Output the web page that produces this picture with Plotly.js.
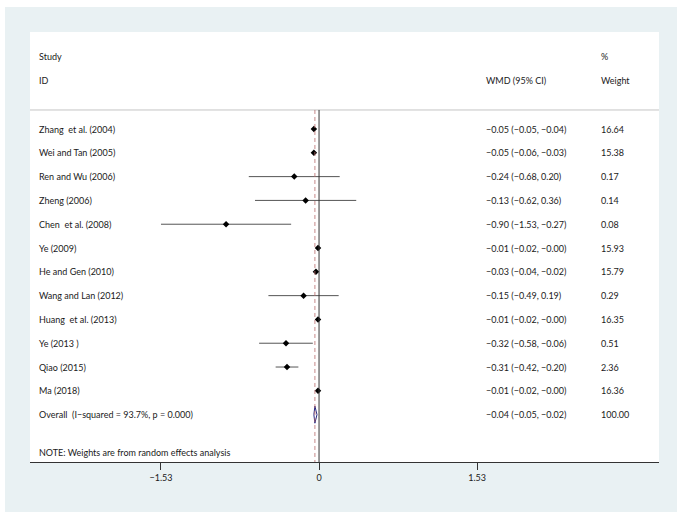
<!DOCTYPE html>
<html>
<head>
<meta charset="utf-8">
<script src="https://cdn.plot.ly/plotly-3.0.1.min.js"></script>
<style>html,body{margin:0;padding:0;background:#fff;}#chart{width:683px;height:520px;}</style>
</head>
<body>
<div id="chart"></div>
<script>
// ---- data ----
const studies = ["Zhang  et al. (2004)", "Wei and Tan (2005)", "Ren and Wu (2006)", "Zheng (2006)",
  "Chen  et al. (2008)", "Ye (2009)", "He and Gen (2010)", "Wang and Lan (2012)",
  "Huang  et al. (2013)", "Ye (2013 )", "Qiao (2015)", "Ma (2018)"];
const wmd   = [-0.05, -0.05, -0.24, -0.13, -0.90, -0.01, -0.03, -0.15, -0.01, -0.32, -0.31, -0.01];
const lower = [-0.05, -0.06, -0.68, -0.62, -1.53, -0.02, -0.04, -0.49, -0.02, -0.58, -0.42, -0.02];
const upper = [-0.04, -0.03,  0.20,  0.36, -0.27, -0.00, -0.02,  0.19, -0.00, -0.06, -0.20, -0.00];
const weights = [16.64, 15.38, 0.17, 0.14, 0.08, 15.93, 15.79, 0.29, 16.35, 0.51, 2.36, 16.36];
const overallLabel = "Overall  (I\u2212squared = 93.7%, p = 0.000)";
const overallWmd = -0.04, overallLower = -0.05, overallUpper = -0.02, overallWeight = 100.00;
const tickVals = [-1.53, 0, 1.53];
const tickText = ["\u22121.53", "0", "1.53"];
const noteText = "NOTE: Weights are from random effects analysis";

// ---- helpers ----
function fmt(v) {
  const neg = v < 0 || Object.is(v, -0);
  return (neg ? "\u2212" : "") + Math.abs(v).toFixed(2);
}
function ciText(e, l, u) { return fmt(e) + " (" + fmt(l) + ", " + fmt(u) + ")"; }

const FONT = "Lato, 'Open Sans', sans-serif";
const TXT = "#1a1a1a";
const rows = studies.map((_, i) => i);
const overallRow = studies.length;

const traces = [];
// CI lines
const ciX = [], ciY = [];
rows.forEach(i => { ciX.push(lower[i], upper[i], null); ciY.push(i, i, null); });
traces.push({x: ciX, y: ciY, mode: "lines", line: {color: "#555", width: 1}, hoverinfo: "skip", showlegend: false});
// point estimates
traces.push({x: wmd, y: rows, mode: "markers", marker: {symbol: "diamond", size: 5, color: "#000"}, showlegend: false});
// overall diamond
const h = 0.36;
traces.push({
  x: [overallLower, overallWmd, overallUpper, overallWmd, overallLower],
  y: [overallRow, overallRow - h, overallRow, overallRow + h, overallRow],
  mode: "lines", fill: "toself", fillcolor: "rgba(255,255,255,0)",
  line: {color: "#2a2a80", width: 1}, showlegend: false, hoverinfo: "skip"
});

const yTop = -4.076, yBot = 13.99, headerLineY = -0.8;

const annotations = [];
function addText(xp, y, text) {
  annotations.push({xref: "paper", yref: "y", x: xp, y: y, text: text, showarrow: false,
    xanchor: "left", yanchor: "middle", font: {family: FONT, size: 9, color: TXT}});
}
const xStudy = (37 - 30) / 629, xCI = (484 - 30) / 629, xW = (599 - 30) / 629;
addText(xStudy, -3.03, "Study");
addText(xStudy, -2.02, "ID");
addText(xCI, -2.02, "WMD (95% CI)");
addText(xW, -3.03, "%");
addText(xW, -2.02, "Weight");
rows.forEach(i => {
  addText(xStudy, i, studies[i]);
  addText(xCI, i, ciText(wmd[i], lower[i], upper[i]));
  addText(xW, i, weights[i].toFixed(2));
});
addText(xStudy, overallRow, overallLabel);
addText(xCI, overallRow, ciText(overallWmd, overallLower, overallUpper));
addText(xW, overallRow, overallWeight.toFixed(2));
addText(xStudy, 13.6, noteText);

const shapes = [
  // outer light background
  {type: "rect", xref: "paper", yref: "paper", x0: (5 - 30) / 629, x1: (677 - 30) / 629,
   y0: (462 - 512) / 430, y1: (462 - 7) / 430, fillcolor: "#e9f1f3", line: {width: 0}, layer: "below"},
  // inner white panel
  {type: "rect", xref: "paper", yref: "paper", x0: 0, x1: 1, y0: 0, y1: 1,
   fillcolor: "#ffffff", line: {width: 0}, layer: "below"},
  // header separator
  {type: "line", xref: "paper", yref: "y", x0: 0, x1: 1, y0: headerLineY, y1: headerLineY,
   line: {color: "#c4c4c4", width: 1}},
  // null line
  {type: "line", xref: "x", yref: "y", x0: 0, x1: 0, y0: headerLineY, y1: yBot,
   line: {color: "#333", width: 1}},
  // overall dashed line
  {type: "line", xref: "x", yref: "y", x0: overallWmd, x1: overallWmd, y0: headerLineY, y1: yBot,
   line: {color: "#b86a6a", width: 0.8, dash: "4px,3px"}}
];

const layout = {
  width: 683, height: 520,
  margin: {l: 30, r: 24, t: 32, b: 58},
  paper_bgcolor: "#ffffff", plot_bgcolor: "#ffffff",
  showlegend: false,
  xaxis: {range: [-2.798, 3.291], tickvals: tickVals, ticktext: tickText,
    showgrid: false, zeroline: false, showline: true, linecolor: "#333", linewidth: 1,
    ticks: "outside", ticklen: 7, tickcolor: "#333", tickwidth: 1,
    tickfont: {family: FONT, size: 9, color: TXT}, fixedrange: true},
  yaxis: {range: [yBot, yTop], visible: false, showgrid: false, zeroline: false, fixedrange: true},
  shapes: shapes,
  annotations: annotations,
  hovermode: false
};

Plotly.newPlot("chart", traces, layout, {displayModeBar: false, staticPlot: true});
</script>
</body>
</html>
